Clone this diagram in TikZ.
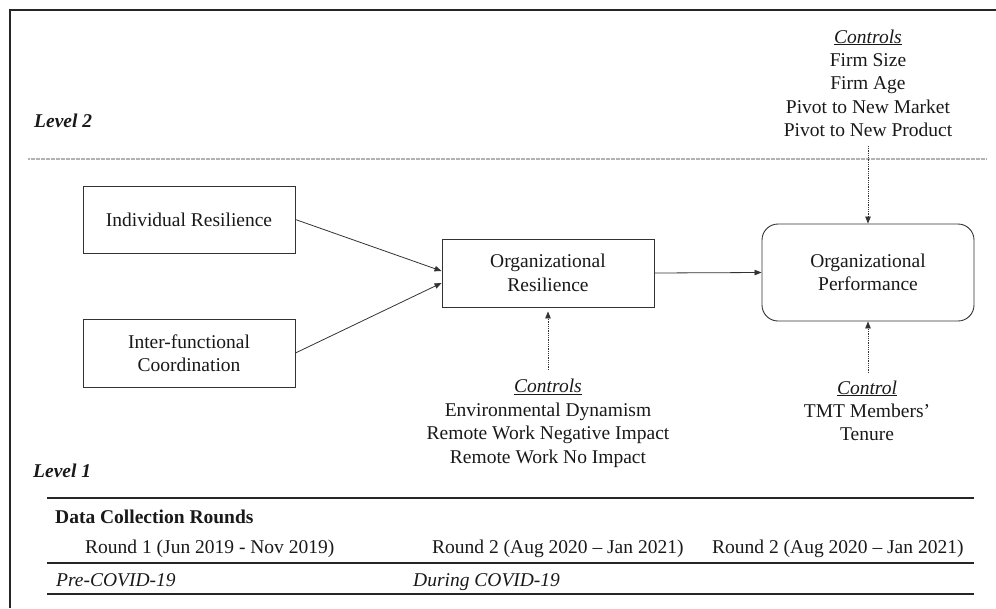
\documentclass[tikz,border=0pt]{standalone}
\usepackage{fontspec}
\setmainfont{Liberation Serif}
\usetikzlibrary{arrows.meta,calc}
\begin{document}
\begin{tikzpicture}[x=1pt,y=-1pt,
  every node/.style={font=\fontsize{19.5}{23.5}\selectfont, inner sep=0pt, text=black!90},
  box/.style={draw=black!80, line width=0.9pt, minimum width=212pt, align=center},
  ln/.style={anchor=base},
  lw/.style={anchor=base west},
  arr/.style={-{Triangle[length=7pt,width=5.5pt]}, line width=0.8pt, draw=black!80},
  darr/.style={-{Triangle[length=7pt,width=5.5pt]}, line width=0.8pt, densely dotted, draw=black!80},
  rule/.style={line width=1.4pt, draw=black!85}]
\useasboundingbox (0,0) rectangle (996,608);
% frame
\coordinate (fa) at (10,608);
\coordinate (fb) at (10,10);
\coordinate (fc) at (996,10);
\draw[line width=1.4pt, black!85] (fa) -- (fb) -- (fc);
% level separator
\coordinate (sa) at (28,159);
\coordinate (sb) at (987,159);
\draw[gray!60, line width=1.3pt, dash pattern=on 2pt off 0.5pt] (sa) -- (sb);
% levels
\node[lw] (lv2) at (34,127) {\textbf{\textit{Level 2}}};
\node[lw] (lv1) at (33,477) {\textbf{\textit{Level 1}}};
% boxes
\node[box, minimum height=67pt] (ind) at (189,219.5) {Individual Resilience};
\node[box, minimum height=68pt] (ifc) at (189,353) {Inter-functional\\Coordination};
\node[box, minimum height=68pt] (ores) at (548,273) {Organizational\\Resilience};
\node[box, minimum height=97pt, rounded corners=16pt] (operf) at (868,272.5) {Organizational\\Performance};
% main arrows
\draw[arr] (ind.east) -- ($(ores.west)+(0,-2)$);
\draw[arr] (ifc.east) -- ($(ores.west)+(0,10)$);
\draw[arr] (ores.east) -- (operf.west);
% top controls
\node[ln] (ct0) at (868,43) {\textit{\underline{Controls}}};
\node[ln] (ct1) at (868,66) {Firm Size};
\node[ln] (ct2) at (868,89) {Firm Age};
\node[ln] (ct3) at (868,113) {Pivot to New Market};
\node[ln] (ct4) at (868,136) {Pivot to New Product};
\coordinate (ctend) at (868,146);
\draw[darr] (ctend) -- (operf.north);
% resilience controls
\node[ln] (cr0) at (548,392.5) {\textit{\underline{Controls}}};
\node[ln] (cr1) at (548,416) {Environmental Dynamism};
\node[ln] (cr2) at (548,439.5) {Remote Work Negative Impact};
\node[ln] (cr3) at (548,463) {Remote Work No Impact};
\coordinate (crstart) at (548,370);
\draw[darr] (crstart) -- ($(ores.south)+(0,4)$);
% performance control
\node[ln] (cp0) at (867,394) {\textit{\underline{Control}}};
\node[ln] (cp1) at (867,417) {TMT Members’};
\node[ln] (cp2) at (867,440) {Tenure};
\coordinate (cpstart) at (868,373);
\draw[darr] (cpstart) -- (operf.south);
% table
\coordinate (ta1) at (47,498); \coordinate (tb1) at (974,498);
\coordinate (ta2) at (47,563); \coordinate (tb2) at (974,563);
\coordinate (ta3) at (47,594); \coordinate (tb3) at (974,594);
\draw[rule] (ta1) -- (tb1);
\draw[rule] (ta2) -- (tb2);
\draw[rule] (ta3) -- (tb3);
\node[lw] (dcr) at (55,523) {\textbf{Data Collection Rounds}};
\node[lw] (r1) at (85,553) {Round 1 (Jun 2019 - Nov 2019)};
\node[lw] (r2a) at (432,553) {Round 2 (Aug 2020 – Jan 2021)};
\node[lw] (r2b) at (712,553) {Round 2 (Aug 2020 – Jan 2021)};
\node[lw] (pre) at (56,586) {\textit{Pre-COVID-19}};
\node[lw] (dur) at (413,586) {\textit{During COVID-19}};
\end{tikzpicture}
\end{document}
